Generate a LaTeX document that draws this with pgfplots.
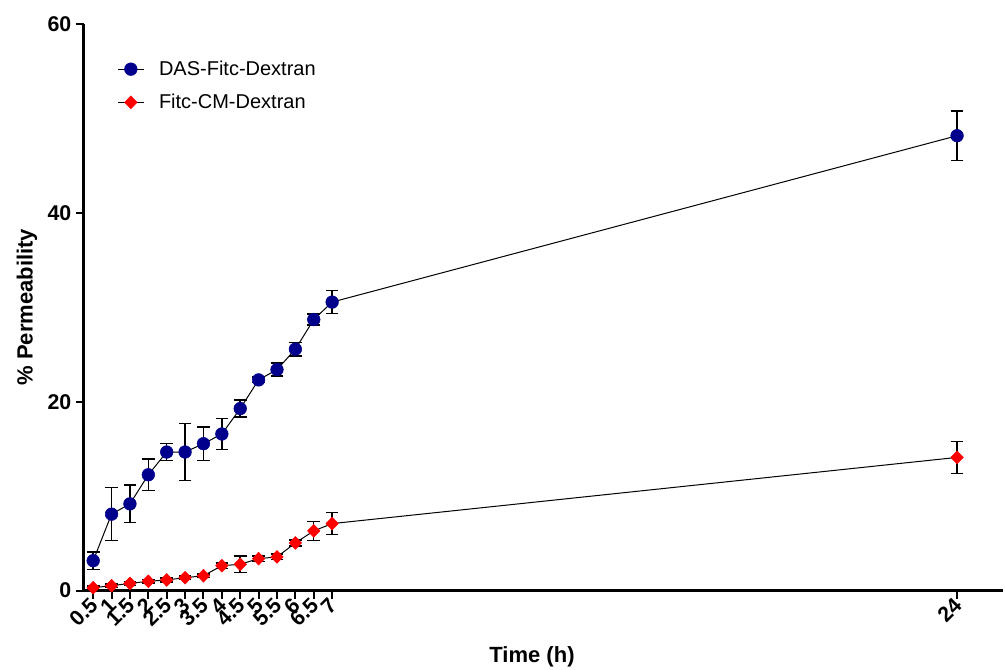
\documentclass[border=0pt]{standalone}
\usepackage{pgfplots}
\pgfplotsset{compat=1.18}
\usepackage{fontspec}
\setmainfont{Liberation Sans}
\definecolor{navyb}{RGB}{0,0,140}
\definecolor{redd}{RGB}{255,0,0}
\pgfplotstableread{
x y e
0.5 3.16 0.92
1 8.09 2.8
1.5 9.18 2.0
2 12.26 1.65
2.5 14.67 0.9
3 14.67 3.0
3.5 15.55 1.75
4 16.58 1.65
4.5 19.27 0.9
5 22.31 0.3
5.5 23.4 0.7
6 25.56 0.72
6.5 28.7 0.6
7 30.55 1.2
24 48.17 2.6
}\dasdata
\pgfplotstableread{
x y e
0.5 0.3 0.2
1 0.51 0.2
1.5 0.76 0.2
2 0.98 0.2
2.5 1.12 0.2
3 1.36 0.2
3.5 1.57 0.2
4 2.63 0.3
4.5 2.78 0.87
5 3.38 0.3
5.5 3.56 0.3
6 5.04 0.3
6.5 6.32 1.0
7 7.09 1.15
24 14.1 1.7
}\cmdata
\begin{document}
\begin{tikzpicture}
\begin{axis}[
  scale only axis, width=689.25pt, height=424.9pt,
  xmin=0.25, xmax=25.25, ymin=0, ymax=60,
  clip=false,
  axis x line=bottom, axis y line=left,
  axis line style={-, line width=2.25pt},
  tick style={black, line width=1.5pt},
  tick align=outside, major tick length=6pt,
  xtick={0.5,1,1.5,2,2.5,3,3.5,4,4.5,5,5.5,6,6.5,7,24},
  xticklabels={0.5,1,1.5,2,2.5,3,3.5,4,4.5,5,5.5,6,6.5,7,24},
  ytick={0,20,40,60},
  yticklabels={0,20,40,60},
  /pgf/number format/assume math mode=true,
  xticklabel style={rotate=45, anchor=east, font=\fontsize{16}{18}\selectfont\bfseries, inner sep=1pt, yshift=-2pt},
  yticklabel style={font=\fontsize{16}{18}\selectfont\bfseries},
  xlabel={Time (h)},
  ylabel={\% Permeability},
  xlabel style={at={(axis description cs:0.4875,-0.1174)}, anchor=center, font=\fontsize{16.5}{18}\selectfont\bfseries},
  ylabel style={at={(axis description cs:-0.062,0.5)}, anchor=center, rotate=0, font=\fontsize{16.5}{18}\selectfont\bfseries},
  legend style={at={(axis description cs:0.036,0.940)}, anchor=north west, draw=none, fill=none,
    font=\fontsize{15}{17}\selectfont, row sep=8.5pt, inner sep=0pt,
    /tikz/every odd column/.append style={column sep=9pt}},
  legend cell align=left,
  legend image code/.code={\draw[black, line width=0.75pt, solid] (0pt,0pt) -- (19.5pt,0pt);
     \draw[mark repeat=2,mark phase=2, only marks] plot coordinates {(0pt,0pt) (9.75pt,0pt) (19.5pt,0pt)};},
  error bars/error bar style={draw=black, line width=1.1pt, solid},
  error bars/error mark options={rotate=90, draw=black, mark size=4.75pt, line width=1.1pt},
]
\addplot[forget plot, black, line width=0.75pt, mark=none,
  error bars/y dir=both, error bars/y explicit]
  table[x=x, y=y, y error=e] {\dasdata};
\addplot[forget plot, black, line width=0.75pt, mark=none,
  error bars/y dir=both, error bars/y explicit]
  table[x=x, y=y, y error=e] {\cmdata};
\addplot[only marks, mark=*, mark size=4.75pt, mark options={draw=navyb, fill=navyb}]
  table[x=x, y=y] {\dasdata};
\addlegendentry{DAS-Fitc-Dextran}
\addplot[only marks, mark=diamond*, mark size=4.8pt, mark options={draw=redd, fill=redd, xscale=1.3}]
  table[x=x, y=y] {\cmdata};
\addlegendentry{Fitc-CM-Dextran}
\end{axis}
\pgfresetboundingbox
\path[use as bounding box] (-63pt,-58.9pt) rectangle (690.75pt,442.9pt);
\end{tikzpicture}
\end{document}
